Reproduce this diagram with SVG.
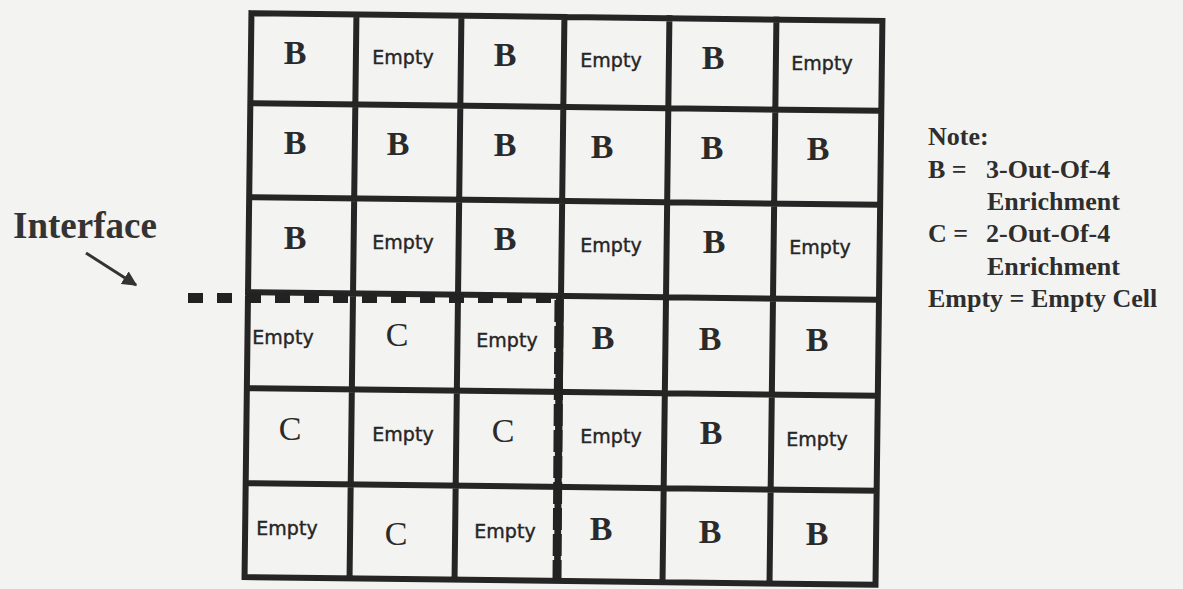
<svg xmlns="http://www.w3.org/2000/svg" width="1183" height="589" viewBox="0 0 1183 589">
<defs>
<style>
.bg{fill:#f3f3f1}
.grid{fill:none;stroke:#252525;stroke-width:6;stroke-linecap:square}
.big{font-family:"Liberation Serif","Times New Roman",serif;font-size:34px;fill:#2a2a2a;text-anchor:middle}
.bigb{font-weight:bold}
.emp{font-family:"DejaVu Sans","Liberation Sans",sans-serif;font-size:19px;fill:#262626;text-anchor:middle;stroke:#262626;stroke-width:0.4}
.note{font-family:"Liberation Serif","Times New Roman",serif;font-size:26px;font-weight:bold;fill:#2e2e2e}
.iface{font-family:"Liberation Serif","Times New Roman",serif;font-size:37px;font-weight:bold;fill:#333}
.dash{fill:none;stroke:#222}
</style>
<marker id="ah" viewBox="0 0 10 10" refX="9" refY="5" markerWidth="5" markerHeight="5" orient="auto" markerUnits="strokeWidth">
<path d="M0,0 L10,5 L0,10 z" fill="#333"/>
</marker>
</defs>
<rect class="bg" x="0" y="0" width="1183" height="589"/>

<g id="grid" transform="rotate(0.7 565 297)">
<path class="grid" d="M248,17 H879 V581 H248 Z M353,17 V581 M458,17 V581 M561,17 V581 M666,17 V581 M773,17 V581 M248,107 H879 M248,201 H879 M248,296 H879 M248,392 H879 M248,487 H879"/>
</g>

<g id="connectors">
<path class="dash" d="M188,298 H560" stroke-width="10" stroke-dasharray="15 14"/>
<path class="dash" d="M559,296 L557,581" stroke-width="6"/>
<path class="dash" d="M559,300 L557,580" stroke-width="9" stroke-dasharray="22 4"/>
<path d="M86,253 L136,285" stroke="#333" stroke-width="3" fill="none" marker-end="url(#ah)"/>
</g>

<g id="interface-label"><text class="iface" x="13" y="238">Interface</text></g>

<g id="r1c1"><text class="big bigb" x="295" y="64">B</text></g>
<g id="r1c2"><text class="emp" x="403" y="64">Empty</text></g>
<g id="r1c3"><text class="big bigb" x="505" y="66">B</text></g>
<g id="r1c4"><text class="emp" x="611" y="67">Empty</text></g>
<g id="r1c5"><text class="big bigb" x="713" y="69">B</text></g>
<g id="r1c6"><text class="emp" x="822" y="70">Empty</text></g>

<g id="r2c1"><text class="big bigb" x="295" y="154">B</text></g>
<g id="r2c2"><text class="big bigb" x="398" y="155">B</text></g>
<g id="r2c3"><text class="big bigb" x="505" y="156">B</text></g>
<g id="r2c4"><text class="big bigb" x="602" y="158">B</text></g>
<g id="r2c5"><text class="big bigb" x="712" y="159">B</text></g>
<g id="r2c6"><text class="big bigb" x="818" y="160">B</text></g>

<g id="r3c1"><text class="big bigb" x="295" y="249">B</text></g>
<g id="r3c2"><text class="emp" x="403" y="249">Empty</text></g>
<g id="r3c3"><text class="big bigb" x="505" y="250">B</text></g>
<g id="r3c4"><text class="emp" x="611" y="252">Empty</text></g>
<g id="r3c5"><text class="big bigb" x="714" y="253">B</text></g>
<g id="r3c6"><text class="emp" x="820" y="254">Empty</text></g>

<g id="r4c1"><text class="emp" x="283" y="344">Empty</text></g>
<g id="r4c2"><text class="big" x="397" y="346">C</text></g>
<g id="r4c3"><text class="emp" x="507" y="347">Empty</text></g>
<g id="r4c4"><text class="big bigb" x="603" y="349">B</text></g>
<g id="r4c5"><text class="big bigb" x="710" y="350">B</text></g>
<g id="r4c6"><text class="big bigb" x="817" y="351">B</text></g>

<g id="r5c1"><text class="big" x="290" y="440">C</text></g>
<g id="r5c2"><text class="emp" x="403" y="441">Empty</text></g>
<g id="r5c3"><text class="big" x="503" y="442">C</text></g>
<g id="r5c4"><text class="emp" x="611" y="443">Empty</text></g>
<g id="r5c5"><text class="big bigb" x="711" y="444">B</text></g>
<g id="r5c6"><text class="emp" x="817" y="446">Empty</text></g>

<g id="r6c1"><text class="emp" x="287" y="535">Empty</text></g>
<g id="r6c2"><text class="big" x="396" y="545">C</text></g>
<g id="r6c3"><text class="emp" x="505" y="538">Empty</text></g>
<g id="r6c4"><text class="big bigb" x="601" y="540">B</text></g>
<g id="r6c5"><text class="big bigb" x="710" y="543">B</text></g>
<g id="r6c6"><text class="big bigb" x="817" y="545">B</text></g>

<g id="note">
<text class="note" x="928" y="145">Note:</text>
<text class="note" y="178"><tspan x="928">B =</tspan><tspan x="986">3-Out-Of-4</tspan></text>
<text class="note" x="987" y="210">Enrichment</text>
<text class="note" y="242"><tspan x="928">C =</tspan><tspan x="986">2-Out-Of-4</tspan></text>
<text class="note" x="987" y="275">Enrichment</text>
<text class="note" x="928" y="307">Empty = Empty Cell</text>
</g>
</svg>
